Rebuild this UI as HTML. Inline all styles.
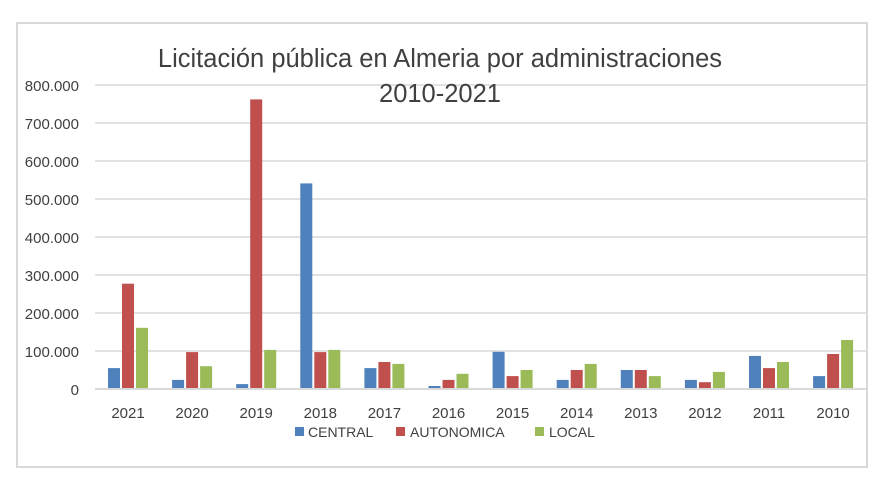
<!DOCTYPE html>
<html><head><meta charset="utf-8"><style>body{margin:0;background:#fff}svg{display:block}</style></head>
<body>
<svg width="888" height="484" xmlns="http://www.w3.org/2000/svg" font-family="Liberation Sans, sans-serif">
<rect x="0" y="0" width="888" height="484" fill="#fff"/>
<rect x="17" y="23" width="850" height="444" fill="none" stroke="#d9d9d9" stroke-width="2"/>
<g stroke="#d9d9d9" stroke-width="1.5">
<line x1="95" x2="866" y1="85" y2="85"/><line x1="95" x2="866" y1="123" y2="123"/>
<line x1="95" x2="866" y1="161" y2="161"/><line x1="95" x2="866" y1="199" y2="199"/>
<line x1="95" x2="866" y1="237" y2="237"/><line x1="95" x2="866" y1="275" y2="275"/>
<line x1="95" x2="866" y1="313" y2="313"/><line x1="95" x2="866" y1="351" y2="351"/>
</g>
<g font-size="15" fill="#404040" text-anchor="end">
<text x="79" y="91">800.000</text><text x="79" y="129">700.000</text><text x="79" y="167">600.000</text>
<text x="79" y="205">500.000</text><text x="79" y="243">400.000</text><text x="79" y="281">300.000</text>
<text x="79" y="319">200.000</text><text x="79" y="357">100.000</text><text x="79" y="395">0</text>
</g>
<g font-size="25.5" fill="#404040" text-anchor="middle">
<text x="440" y="67">Licitación pública en Almeria por administraciones</text>
<text x="440" y="102">2010-2021</text>
</g>
<g fill="#4F81BD">
<rect x="108" y="368.1" width="12" height="20.9"/>
<rect x="172.1" y="379.9" width="12" height="9.1"/>
<rect x="236.2" y="384.1" width="12" height="4.9"/>
<rect x="300.3" y="183.4" width="12" height="205.6"/>
<rect x="364.4" y="368.1" width="12" height="20.9"/>
<rect x="428.5" y="386" width="12" height="3"/>
<rect x="492.6" y="351.8" width="12" height="37.2"/>
<rect x="556.7" y="379.9" width="12" height="9.1"/>
<rect x="620.8" y="370" width="12" height="19"/>
<rect x="684.9" y="379.9" width="12" height="9.1"/>
<rect x="749" y="355.9" width="12" height="33.1"/>
<rect x="813.1" y="376.1" width="12" height="12.9"/>
</g>
<g fill="#C0504D">
<rect x="122" y="283.7" width="12" height="105.3"/>
<rect x="186.1" y="352.1" width="12" height="36.9"/>
<rect x="250.2" y="99.4" width="12" height="289.6"/>
<rect x="314.3" y="352.1" width="12" height="36.9"/>
<rect x="378.4" y="362" width="12" height="27"/>
<rect x="442.5" y="379.9" width="12" height="9.1"/>
<rect x="506.6" y="376.1" width="12" height="12.9"/>
<rect x="570.7" y="370" width="12" height="19"/>
<rect x="634.8" y="370" width="12" height="19"/>
<rect x="698.9" y="382.2" width="12" height="6.8"/>
<rect x="763" y="368.1" width="12" height="20.9"/>
<rect x="827.1" y="354" width="12" height="35"/>
</g>
<g fill="#9BBB59">
<rect x="136" y="327.8" width="12" height="61.2"/>
<rect x="200.1" y="366.2" width="12" height="22.8"/>
<rect x="264.2" y="349.9" width="12" height="39.1"/>
<rect x="328.3" y="349.9" width="12" height="39.1"/>
<rect x="392.4" y="363.9" width="12" height="25.1"/>
<rect x="456.5" y="373.8" width="12" height="15.2"/>
<rect x="520.6" y="370" width="12" height="19"/>
<rect x="584.7" y="363.9" width="12" height="25.1"/>
<rect x="648.8" y="376.1" width="12" height="12.9"/>
<rect x="712.9" y="371.9" width="12" height="17.1"/>
<rect x="777" y="362" width="12" height="27"/>
<rect x="841.1" y="340" width="12" height="49"/>
</g>
<line x1="95" x2="866" y1="389" y2="389" stroke="#d9d9d9" stroke-width="2"/>
<g font-size="15" fill="#404040" text-anchor="middle">
<text x="128" y="418">2021</text><text x="192.1" y="418">2020</text><text x="256.2" y="418">2019</text>
<text x="320.3" y="418">2018</text><text x="384.4" y="418">2017</text><text x="448.5" y="418">2016</text>
<text x="512.6" y="418">2015</text><text x="576.7" y="418">2014</text><text x="640.8" y="418">2013</text>
<text x="704.9" y="418">2012</text><text x="769" y="418">2011</text><text x="833.1" y="418">2010</text>
</g>
<g font-size="14" fill="#404040">
<rect x="295" y="427" width="9" height="9" fill="#4F81BD"/><text x="308" y="437">CENTRAL</text>
<rect x="396" y="427" width="9" height="9" fill="#C0504D"/><text x="410" y="437">AUTONOMICA</text>
<rect x="535" y="427" width="9" height="9" fill="#9BBB59"/><text x="549" y="437">LOCAL</text>
</g>
</svg>
</body></html>
